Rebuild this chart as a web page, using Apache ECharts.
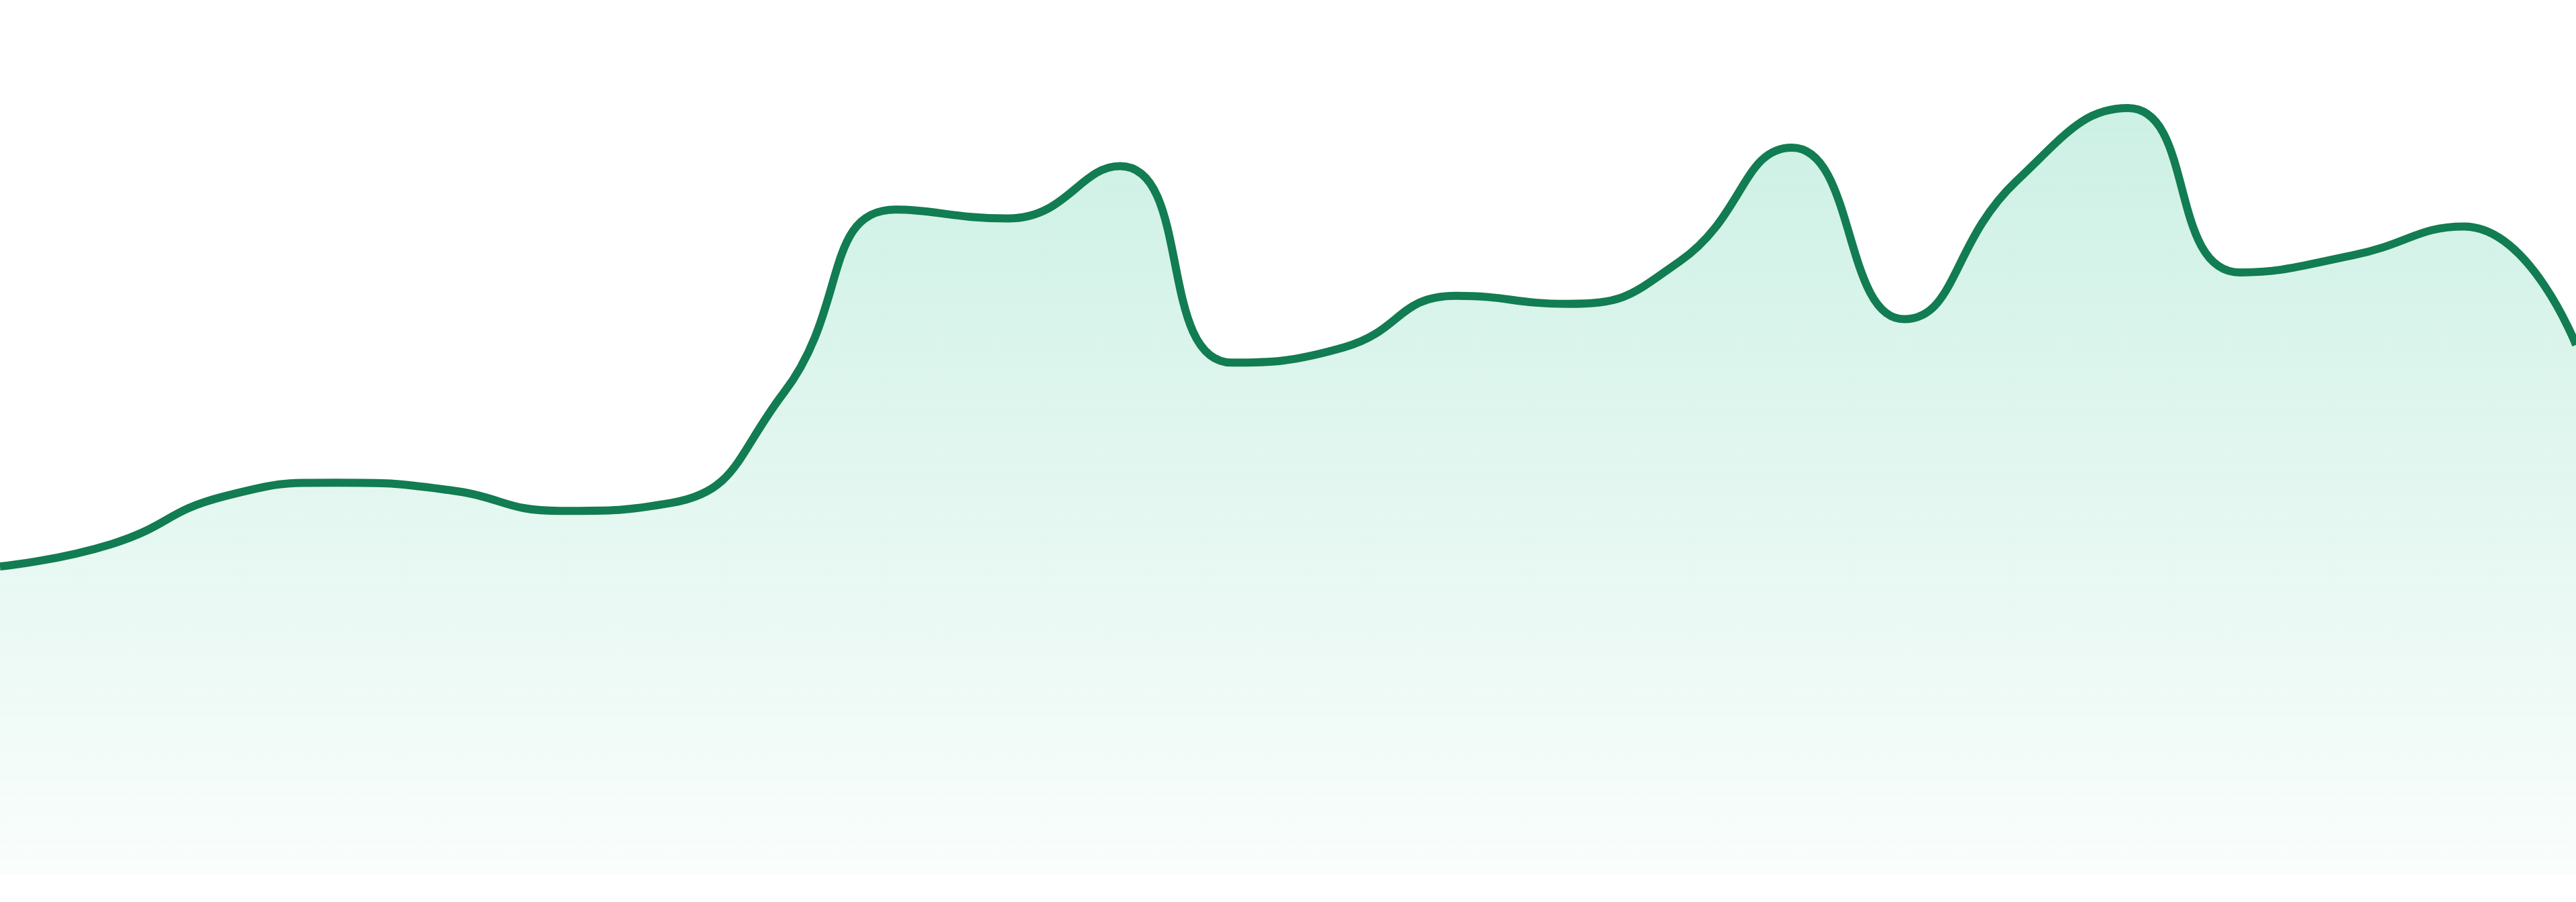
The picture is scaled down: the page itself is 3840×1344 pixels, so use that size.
<!DOCTYPE html>
<html lang="en">

<head>
    <meta charset="UTF-8">
    <title>Area</title>
    <style>
        html, body { margin: 0; padding: 0; background: #fff; overflow: hidden; }
        .chart { width: 100vw; height: 100vh; }
    </style>
</head>

<body>
    <div class="chart"></div>

    <script src="https://cdn.jsdelivr.net/npm/echarts@6/dist/echarts.min.js"></script>
    <script>
        // 24 samples
        var days = ['1', '2', '3', '4', '5', '6', '7', '8', '9', '10', '11', '12',
            '13', '14', '15', '16', '17', '18', '19', '20', '21', '22', '23', '24'];
        var values = [38.3, 41.1, 47.0, 48.7, 47.8, 45.2, 46.2, 59.9, 82.6, 81.5, 88.0, 63.6,
            65.5, 71.9, 70.9, 76.2, 90.3, 69.0, 86.1, 95.2, 74.8, 76.9, 80.5, 65.8];

        var chart = echarts.init(document.querySelector('.chart'), null, { renderer: 'canvas' });
        var option = {
            animation: false,
            grid: { left: 0, right: 0, top: '7.7%', bottom: '3%' },
            xAxis: { type: 'category', boundaryGap: false, data: days, show: false },
            yAxis: { type: 'value', min: 0, max: 100, show: false },
            series: [
                {
                    type: 'line',
                    data: values,
                    smooth: true,
                    symbol: 'none',
                    lineStyle: { color: '#127c52', width: 12 },
                    areaStyle: {
                        color: new echarts.graphic.LinearGradient(0, 0, 0, 1, [
                            { offset: 0, color: 'rgba(16, 185, 129, 0.30)' },
                            { offset: 1, color: 'rgba(16, 185, 129, 0.03)' }
                        ])
                    }
                }
            ]
        };
        chart.setOption(option);
    </script>
</body>

</html>
